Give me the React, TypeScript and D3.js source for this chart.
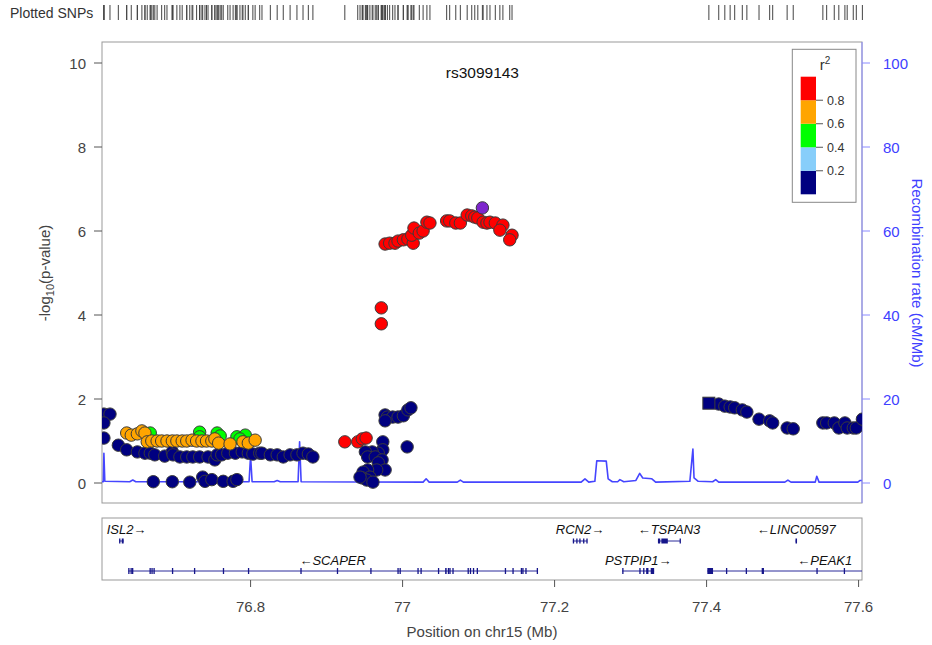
import React from 'react';
import * as d3 from 'd3';

const leadSnpName = 'rs3099143';
const chromosome = '15';
const xDomain: [number, number] = [76.6045, 77.6045];
const xTicks = [76.8, 77, 77.2, 77.4, 77.6];
const xTickLabels = ['76.8', '77', '77.2', '77.4', '77.6'];
const pTicks = [0, 2, 4, 6, 8, 10];
const recombTicks = [0, 20, 40, 60, 80, 100];
const ldBreaks = [0.2, 0.4, 0.6, 0.8];
const ldBreakLabels = ['0.2', '0.4', '0.6', '0.8'];
const ldColors = ['#000080', '#87CEFA', '#00FF00', '#FFA500', '#FF0000'];
const leadColor = '#7D26CD';

// [position (Mb), -log10(p)]
const snpsR2Below02: [number, number][] = [
  [76.607, 1.64], [76.615, 1.64], [76.607, 1.43], [76.607, 1.07], [76.626, 0.9], [76.637, 0.79],
  [76.651, 0.74], [76.661, 0.71], [76.668, 0.71], [76.674, 0.67], [76.687, 0.64], [76.697, 0.74],
  [76.698, 0.67], [76.707, 0.62], [76.716, 0.62], [76.724, 0.62], [76.733, 0.62], [76.744, 0.62],
  [76.753, 0.55], [76.756, 0.67], [76.762, 0.67], [76.77, 0.71], [76.78, 0.71], [76.789, 0.74],
  [76.797, 0.71], [76.803, 0.69], [76.812, 0.71], [76.815, 0.71], [76.826, 0.67], [76.835, 0.67],
  [76.843, 0.62], [76.852, 0.67], [76.861, 0.67], [76.869, 0.71], [76.876, 0.69], [76.882, 0.62],
  [76.672, 0.03], [76.697, 0.03], [76.72, 0.02], [76.737, 0.14], [76.74, 0.04], [76.749, 0.08],
  [76.764, 0.04], [76.777, 0.04], [76.782, 0.08],
  [76.977, 1.62], [76.98, 1.57], [76.987, 1.57], [76.994, 1.57], [77.001, 1.6], [77.007, 1.74],
  [77.011, 1.79], [76.977, 1.48], [76.974, 0.98], [77.006, 0.86], [76.974, 0.79], [76.968, 0.71],
  [76.96, 0.74], [76.951, 0.74], [76.954, 0.62], [76.964, 0.62], [76.973, 0.55], [76.968, 0.48],
  [76.977, 0.31], [76.966, 0.31], [76.954, 0.31], [76.948, 0.26], [76.957, 0.14], [76.947, 0.12],
  [76.953, 0.07], [76.961, 0.02], [76.944, 0.14],
  [77.416, 1.88], [77.424, 1.83], [77.431, 1.81], [77.437, 1.79], [77.447, 1.74], [77.453, 1.69],
  [77.469, 1.52], [77.483, 1.48], [77.487, 1.43], [77.506, 1.31], [77.514, 1.29], [77.553, 1.43],
  [77.558, 1.43], [77.568, 1.43], [77.574, 1.31], [77.582, 1.43], [77.585, 1.31], [77.593, 1.31],
  [77.597, 1.31], [77.605, 1.52],
];
const squareSnpsR2Below02: [number, number][] = [[77.403, 1.9]];
const snpsR2From04To06: [number, number][] = [
  [76.668, 1.19], [76.733, 1.21], [76.733, 1.1], [76.756, 1.19], [76.76, 1.12], [76.782, 1.1],
  [76.793, 1.14], [76.786, 1.05],
];
const snpsR2From06To08: [number, number][] = [
  [76.637, 1.19], [76.643, 1.14], [76.651, 1.17], [76.657, 1.24], [76.661, 1.19], [76.664, 0.98],
  [76.67, 1.0], [76.677, 1.0], [76.683, 1.0], [76.69, 1.0], [76.697, 1.0], [76.703, 1.0],
  [76.71, 1.0], [76.716, 1.0], [76.723, 1.02], [76.729, 1.0], [76.736, 1.0], [76.742, 1.0],
  [76.749, 1.0], [76.753, 1.05], [76.758, 0.95], [76.773, 0.93], [76.79, 0.98], [76.797, 0.95],
  [76.806, 1.02],
];
const snpsR2Above08: [number, number][] = [
  [76.924, 0.98], [76.941, 0.98], [76.947, 1.05], [76.952, 1.07], [76.972, 4.17], [76.972, 3.79],
  [76.977, 5.69], [76.983, 5.71], [76.99, 5.71], [76.994, 5.76], [77.001, 5.79], [77.007, 5.81],
  [77.014, 5.71], [77.012, 5.9], [77.015, 6.07], [77.022, 5.95], [77.027, 6.0], [77.032, 6.21],
  [77.036, 6.19], [77.058, 6.24], [77.062, 6.24], [77.07, 6.19], [77.076, 6.19], [77.085, 6.38],
  [77.091, 6.36], [77.095, 6.33], [77.099, 6.31], [77.106, 6.21], [77.111, 6.19], [77.115, 6.21],
  [77.122, 6.19], [77.132, 6.14], [77.128, 6.02], [77.144, 5.9], [77.141, 5.79],
];
const leadSnp: [number, number] = [77.105, 6.55];

// recombination rate (cM/Mb)
const recombPos = [
  76.6045, 76.6062, 76.607, 76.6082, 76.641, 76.645, 76.649, 76.798, 76.8, 76.802, 76.831, 76.835,
  76.839, 76.8625, 76.8645, 76.8665, 77.027, 77.031, 77.035, 77.072, 77.076, 77.08, 77.235, 77.24,
  77.245, 77.253, 77.2555, 77.268, 77.2705, 77.276, 77.283, 77.286, 77.291, 77.307, 77.312, 77.316,
  77.328, 77.333, 77.378, 77.382, 77.3835, 77.389, 77.408, 77.412, 77.416, 77.503, 77.507, 77.511,
  77.543, 77.545, 77.548, 77.599, 77.602, 77.6045,
];
const recombRate = [
  0.3, 0.3, 7.1, 0.4, 0.3, 0.7, 0.3, 0.3, 6.5, 0.3, 0.3, 0.6,
  0.3, 0.3, 9.8, 0.3, 0.2, 1.0, 0.2, 0.2, 0.7, 0.2, 0.2, 1.0,
  0.2, 0.4, 5.3, 5.2, 1.0, 0.3, 0.3, 0.8, 0.3, 0.6, 2.3, 1.2,
  1.0, 0.2, 0.4, 8.1, 1.2, 0.4, 0.3, 0.8, 0.2, 0.2, 0.7, 0.2,
  0.2, 1.6, 0.2, 0.2, 0.6, 0.6,
];

// genes: name, start, end, strand, row, exons [start, end] (Mb)
const geneNames = ['ISL2', 'SCAPER', 'RCN2', 'TSPAN3', 'LINC00597', 'PSTPIP1', 'PEAK1'];
const geneStarts = [76.627, 76.639, 77.224, 77.336, 77.517, 77.289, 77.401];
const geneEnds = [76.633, 77.177, 77.243, 77.365, 77.519, 77.331, 77.71];
const geneStrands = ['+', '-', '+', '-', '-', '+', '-'];
const geneRows = [0, 1, 0, 0, 0, 1, 1];
const geneExons: [number, number][][] = [
  [[76.627, 76.6285], [76.6305, 76.633]],
  [[76.639, 76.6405], [76.642, 76.6432], [76.644, 76.6452], [76.667, 76.6682], [76.6695, 76.6708],
   [76.6722, 76.6734], [76.6965, 76.6975], [76.7255, 76.7265], [76.7635, 76.7645], [76.7965, 76.7975],
   [76.8655, 76.8665], [76.9135, 76.9145], [76.9575, 76.9585], [76.9932, 76.9945], [76.996, 76.9972],
   [77.0195, 77.0205], [77.0235, 77.0245], [77.0465, 77.0475], [77.056, 77.058], [77.0595, 77.0605],
   [77.0615, 77.0625], [77.0655, 77.0665], [77.0855, 77.0865], [77.0885, 77.0895], [77.0925, 77.0935],
   [77.0975, 77.0985], [77.1345, 77.1355], [77.1445, 77.1455], [77.1555, 77.1565], [77.1575, 77.1585],
   [77.1615, 77.1625], [77.1765, 77.177]],
  [[77.224, 77.2252], [77.2285, 77.2297], [77.2325, 77.2337], [77.2375, 77.2387], [77.2418, 77.243]],
  [[77.336, 77.339], [77.3405, 77.349], [77.3645, 77.365]],
  [[77.517, 77.519]],
  [[77.289, 77.2898], [77.3115, 77.3125], [77.3165, 77.3175], [77.3205, 77.3235], [77.3265, 77.331]],
  [[77.401, 77.4085], [77.4255, 77.4265], [77.4515, 77.4525], [77.4725, 77.4755], [77.5445, 77.5455],
   [77.5805, 77.5815]],
];

const FONT = '"Liberation Sans", Arial, Helvetica, sans-serif';

const L = 102, R = 862, T = 42, B = 503;
const GT = 518, GB = 580;

export default function App() {
  const x = d3.scaleLinear().domain(xDomain).range([L, R]);
  const y = d3.scaleLinear().domain([0, 10]).range([483, 63]);
  const yRec = d3.scaleLinear().domain([0, 100]).range([483, 63]);
  const legY = d3.scaleLinear().domain([0, 1]).range([194.3, 76.7]);
  const rowLine = [541, 571];
  const rowText = [534, 565];
  const exonH = [5, 6];

  const recLine = d3.line<number>()
    .x((_, i) => x(recombPos[i]))
    .y((d) => yRec(d));

  const allSnps = [
    ...snpsR2Below02, ...squareSnpsR2Below02, ...snpsR2From04To06, ...snpsR2From06To08,
    ...snpsR2Above08, leadSnp,
  ];
  const groups: { pts: [number, number][]; color: string }[] = [
    { pts: snpsR2Below02, color: ldColors[0] },
    { pts: snpsR2From04To06, color: ldColors[2] },
    { pts: snpsR2From06To08, color: ldColors[3] },
    { pts: snpsR2Above08, color: ldColors[4] },
  ];
  const rad = 6.2;
  const ptStroke = '#3a3a3a';

  const legendEdges = [0, ...ldBreaks, 1];

  return (
    <svg width={932} height={645} style={{ position: 'absolute', left: 0, top: 0, background: '#fff' }}
      fontFamily={FONT}>
      <defs>
        <clipPath id="plotClip"><rect x={L} y={T} width={R - L} height={B - T} /></clipPath>
        <clipPath id="geneClip"><rect x={L} y={GT} width={R - L} height={GB - GT} /></clipPath>
      </defs>
      <rect width={932} height={645} fill="#fff" />

      {/* Plotted SNPs rug */}
      <text x={10} y={18} fontSize={14} fill="#333">Plotted SNPs</text>
      {allSnps.map((d, i) => (
        <line key={'rug' + i} x1={x(d[0])} x2={x(d[0])} y1={5} y2={20} stroke="#444" strokeWidth={1} />
      ))}

      {/* Frame */}
      <rect x={L} y={T} width={R - L} height={B - T} fill="none" stroke="#999" strokeWidth={1} />

      {/* Left axis */}
      {pTicks.map((t) => (
        <g key={'pt' + t}>
          <line x1={L - 8} x2={L} y1={y(t)} y2={y(t)} stroke="#555" />
          <text x={L - 16} y={y(t) + 5.5} fontSize={15} fill="#444" textAnchor="end">{t}</text>
        </g>
      ))}
      <text transform={`translate(50,${273}) rotate(-90)`} fontSize={15} fill="#444" textAnchor="middle">
        -log<tspan fontSize={11} dy={4}>10</tspan><tspan dy={-4}>(p-value)</tspan>
      </text>

      {/* Recombination line */}
      <g clipPath="url(#plotClip)">
        <path d={recLine(recombRate) || ''} fill="none" stroke="#4545ff" strokeWidth={1.6} strokeLinejoin="round" />
      </g>

      {/* Right axis */}
      <line x1={R} x2={R} y1={T} y2={B} stroke="#8a8aff" strokeWidth={1} />
      {recombTicks.map((t) => (
        <g key={'rt' + t}>
          <line x1={R} x2={R + 8} y1={yRec(t)} y2={yRec(t)} stroke="#8a8aff" />
          <text x={R + 21} y={yRec(t) + 5.5} fontSize={15} fill="#4040ff" textAnchor="start">{t}</text>
        </g>
      ))}
      <text transform={`translate(912,${273}) rotate(90)`} fontSize={15} fill="#4040ff" textAnchor="middle">
        Recombination rate (cM/Mb)
      </text>

      {/* Points */}
      <g clipPath="url(#plotClip)">
        {groups.map((g, gi) => g.pts.map((d, i) => (
          <circle key={`p${gi}-${i}`} cx={x(d[0])} cy={y(d[1])} r={rad} fill={g.color}
            stroke={ptStroke} strokeWidth={1} />
        )))}
        {squareSnpsR2Below02.map((d, i) => (
          <rect key={'sq' + i} x={x(d[0]) - 6} y={y(d[1]) - 6} width={12} height={12} fill={ldColors[0]}
            stroke={ptStroke} strokeWidth={1} />
        ))}
        <circle cx={x(leadSnp[0])} cy={y(leadSnp[1])} r={rad} fill={leadColor} stroke={ptStroke} strokeWidth={1} />
      </g>

      <text x={x(leadSnp[0])} y={78} fontSize={15.5} fill="#111" textAnchor="middle">{leadSnpName}</text>

      {/* Legend */}
      <rect x={792.3} y={49.3} width={63.7} height={153} fill="#fff" stroke="#888" strokeWidth={1} />
      <text x={825} y={70} fontSize={15} fill="#333" textAnchor="middle">r<tspan fontSize={10} dy={-6}>2</tspan></text>
      {ldColors.map((c, i) => (
        <rect key={'lg' + i} x={800.7} y={legY(legendEdges[i + 1])} width={15.3}
          height={legY(legendEdges[i]) - legY(legendEdges[i + 1])} fill={c} />
      ))}
      {ldBreaks.map((b, i) => (
        <g key={'lb' + i}>
          <line x1={816} x2={823} y1={legY(b)} y2={legY(b)} stroke="#555" />
          <text x={827} y={legY(b) + 4.5} fontSize={12.5} fill="#333">{ldBreakLabels[i]}</text>
        </g>
      ))}

      {/* Gene panel */}
      <rect x={L} y={GT} width={R - L} height={GB - GT} fill="none" stroke="#999" strokeWidth={1} />
      <g clipPath="url(#geneClip)">
        {geneNames.map((name, gi) => {
          const row = geneRows[gi];
          const ly = rowLine[row];
          const x0 = x(geneStarts[gi]);
          const x1 = x(geneEnds[gi]);
          const label = geneStrands[gi] === '+' ? `${name}\u2192` : `\u2190${name}`;
          const approxW = label.length * 8.2;
          let cx = (x0 + x1) / 2;
          cx = Math.max(L + 4 + approxW / 2, Math.min(R - 6 - approxW / 2, cx));
          const h = exonH[row];
          return (
            <g key={'g' + name}>
              <line x1={x0} x2={x1} y1={ly} y2={ly} stroke="#2a2a9a" strokeWidth={1} />
              {geneExons[gi].map((e, ei) => (
                <rect key={ei} x={x(e[0])} y={ly - h / 2} width={Math.max(1.3, x(e[1]) - x(e[0]))} height={h}
                  fill="#15158a" />
              ))}
              <text x={cx} y={rowText[row]} fontSize={13} fontStyle="italic" fill="#111" textAnchor="middle">{label}</text>
            </g>
          );
        })}
      </g>

      {/* X axis */}
      {xTicks.map((t, i) => (
        <g key={'xt' + t}>
          <line x1={x(t)} x2={x(t)} y1={GB} y2={GB + 7} stroke="#555" />
          <text x={x(t)} y={612} fontSize={15} fill="#444" textAnchor="middle">{xTickLabels[i]}</text>
        </g>
      ))}
      <text x={(L + R) / 2} y={637} fontSize={15} fill="#444" textAnchor="middle">{`Position on chr${chromosome} (Mb)`}</text>
    </svg>
  );
}
